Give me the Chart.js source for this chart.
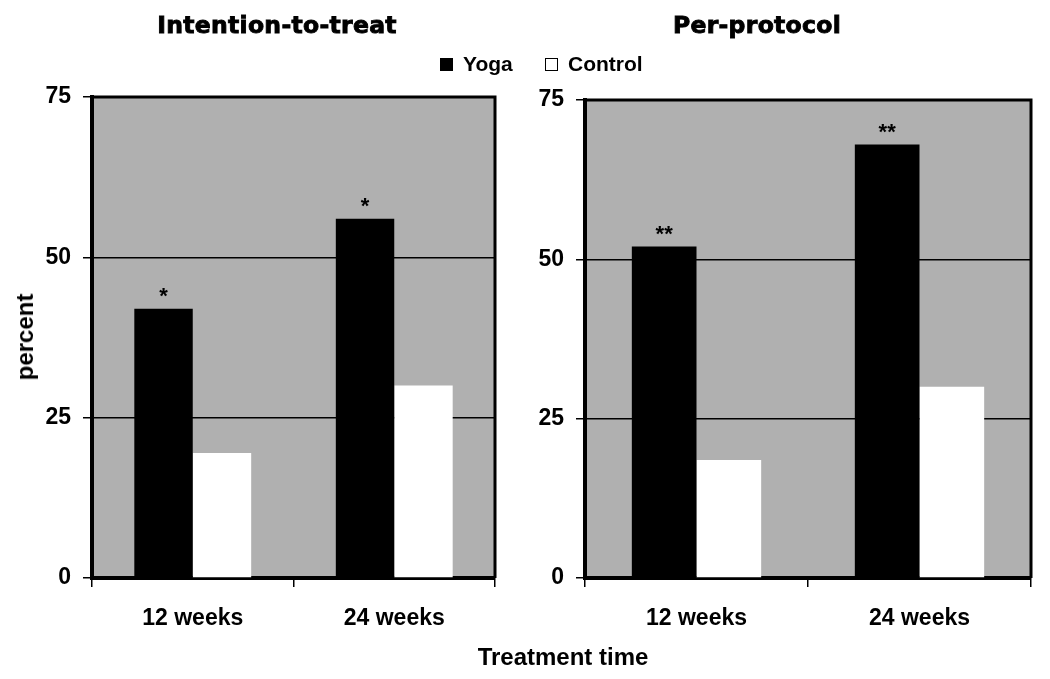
<!DOCTYPE html>
<html>
<head>
<meta charset="utf-8">
<script src="https://cdn.jsdelivr.net/npm/chart.js@4/dist/chart.umd.min.js"></script>
<style>
  body { margin: 0; background: #fff; width: 1050px; height: 679px; position: relative; overflow: hidden;
         font-family: "Liberation Sans", Arial, sans-serif; font-weight: bold; color: #000; }
  canvas { position: absolute; top: 0; }
  .title { position: absolute; top: 11px; font-family: "DejaVu Sans", sans-serif; font-size: 23.5px; font-weight: bold;
           -webkit-text-stroke: 0.9px #000; letter-spacing: 0.3px; transform: translateX(-50%); white-space: nowrap; }
  .lbl { position: absolute; white-space: nowrap; }
  .sw { display: inline-block; width: 13px; height: 13px; box-sizing: border-box; margin-right: 10px; vertical-align: 0px; }
</style>
</head>
<body>
<canvas id="itt" width="520" height="679" style="left:0"></canvas>
<canvas id="pp" width="530" height="679" style="left:520px"></canvas>
<div class="title" style="left:277px">Intention-to-treat</div>
<div class="title" style="left:757px">Per-protocol</div>
<div class="lbl" style="left:440px; top:52px; font-size:21px"><span class="sw" style="background:#000"></span>Yoga</div>
<div class="lbl" style="left:545px; top:52px; font-size:21px"><span class="sw" style="background:#fff;border:1.5px solid #000"></span>Control</div>
<div class="lbl" style="left:25px; top:337px; font-size:24px; transform: translate(-50%,-50%) rotate(-90deg)">percent</div>
<div class="lbl" style="left:563px; top:657px; font-size:24px; transform: translate(-50%,-50%)">Treatment time</div>
<script>
// ~~~~~~~~~~ DATA ~~~~~~~~~~
const categories = ['12 weeks', '24 weeks'];
const yTicks = [0, 25, 50, 75];
const ittYoga = [42, 56];
const ittControl = [19.5, 30];
const ittStars = ['*', '*'];
const ppYoga = [52, 68];
const ppControl = [18.5, 30];
const ppStars = ['**', '**'];

// gray plot background + top/right frame
const frame = {
  id: 'frame',
  beforeDraw(chart) {
    const a = chart.chartArea, c = chart.ctx;
    c.save();
    c.fillStyle = '#b0b0b0';
    c.fillRect(a.left, a.top, a.right - a.left, a.bottom - a.top);
    c.restore();
  },
  afterDraw(chart) {
    const a = chart.chartArea, c = chart.ctx;
    c.save();
    c.strokeStyle = '#000';
    c.lineWidth = 3;
    c.beginPath();
    c.moveTo(a.left, a.top);
    c.lineTo(a.right, a.top);
    c.lineTo(a.right, a.bottom);
    c.stroke();
    c.restore();
  }
};

// significance stars above the yoga bars
const starsPlugin = {
  id: 'stars',
  afterDatasetsDraw(chart, args, opts) {
    const c = chart.ctx;
    c.save();
    c.font = 'bold 22px "Liberation Sans", Arial';
    c.fillStyle = '#000';
    c.textAlign = 'center';
    c.textBaseline = 'middle';
    chart.getDatasetMeta(0).data.forEach((bar, i) => {
      c.fillText(opts.labels[i], bar.x, bar.y - 12);
    });
    c.restore();
  }
};

const buildPanel = (id, yoga, control, stars, box) => {
  const ctx = document.getElementById(id).getContext('2d');
  new Chart(ctx, {
    type: 'bar',
    data: {
      labels: categories,
      datasets: [
        { label: 'Yoga', data: yoga, backgroundColor: '#000' },
        { label: 'Control', data: control, backgroundColor: '#fff' }
      ]
    },
    options: {
      responsive: false,
      animation: false,
      events: [],
      categoryPercentage: 0.58,
      barPercentage: 1,
      layout: { padding: { left: 0, top: box.top, right: box.right, bottom: 31 } },
      plugins: {
        legend: { display: false },
        tooltip: { enabled: false },
        stars: { labels: stars }
      },
      scales: {
        x: {
          afterFit: s => { s.height = 70; },
          grid: { drawOnChartArea: false, color: '#000', lineWidth: 1.5, tickLength: 9, offset: true },
          border: { color: '#000', width: 4 },
          ticks: { color: '#000', font: { family: '"Liberation Sans", Arial', size: 23, weight: 'bold' }, padding: 18 }
        },
        y: {
          min: 0,
          max: 75,
          afterFit: s => { s.width = box.left; },
          afterBuildTicks: s => { s.ticks = yTicks.map(v => ({ value: v })); },
          grid: { color: '#000', lineWidth: 1.5, tickLength: 9 },
          border: { color: '#000', width: 4 },
          ticks: { color: '#000', font: { family: '"Liberation Sans", Arial', size: 23, weight: 'bold' }, padding: 12 }
        }
      }
    },
    plugins: [frame, starsPlugin]
  });
};

buildPanel('itt', ittYoga, ittControl, ittStars, { left: 92, top: 97, right: 25 });
buildPanel('pp', ppYoga, ppControl, ppStars, { left: 65, top: 100, right: 19 });
</script>
</body>
</html>
